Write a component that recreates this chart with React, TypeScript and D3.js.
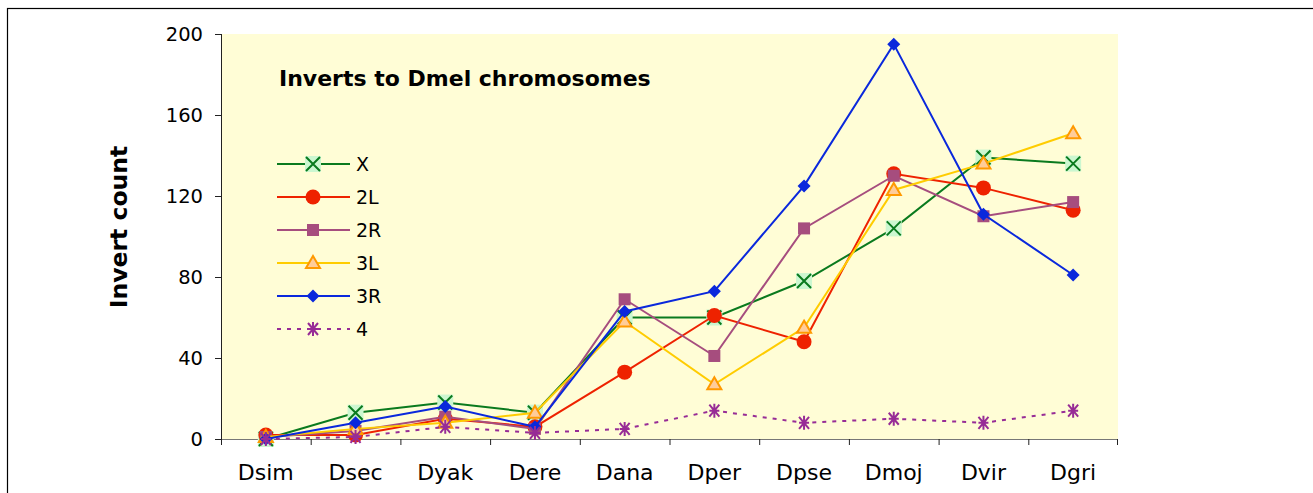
import React from "react";
import * as d3 from "d3";

const categories = ["Dsim", "Dsec", "Dyak", "Dere", "Dana", "Dper", "Dpse", "Dmoj", "Dvir", "Dgri"];
const seriesX = [0, 13, 18, 13, 60, 60, 78, 104, 139, 136];
const series2L = [2, 2, 10, 6, 33, 61, 48, 131, 124, 113];
const series2R = [1, 4, 11, 5, 69, 41, 104, 130, 110, 117];
const series3L = [1, 5, 8, 13, 58, 27, 55, 123, 136, 151];
const series3R = [0, 8, 16, 6, 63, 73, 125, 195, 111, 81];
const series4 = [0, 1, 6, 3, 5, 14, 8, 10, 8, 14];
const yTicks = [0, 40, 80, 120, 160, 200];
const seriesNames = ["X", "2L", "2R", "3L", "3R", "4"];

type Style = { line: string; dash?: string; marker: string };
const styles: Style[] = [
  { line: "#0A7A1E", marker: "x" },
  { line: "#EE2200", marker: "circle" },
  { line: "#A64D7E", marker: "square" },
  { line: "#FFCC00", marker: "triangle" },
  { line: "#0A28DC", marker: "diamond" },
  { line: "#972C96", dash: "4,6", marker: "star" },
];
const allSeries = [seriesX, series2L, series2R, series3L, series3R, series4];

const FONT = "'DejaVu Sans', Verdana, sans-serif";

function Marker({ kind, x, y }: { kind: string; x: number; y: number }) {
  switch (kind) {
    case "x":
      return (
        <g>
          <rect x={x - 8} y={y - 8} width={16} height={16} fill="#CCF7D0" />
          <path d={`M${x - 7},${y - 7}L${x + 7},${y + 7}M${x - 7},${y + 7}L${x + 7},${y - 7}`} stroke="#0A7A1E" strokeWidth={2} />
        </g>
      );
    case "circle":
      return <circle cx={x} cy={y} r={7.5} fill="#EE2200" />;
    case "square":
      return <rect x={x - 6} y={y - 6} width={12} height={12} fill="#A64D7E" />;
    case "triangle":
      return (
        <path d={`M${x},${y - 7}L${x + 7},${y + 5}L${x - 7},${y + 5}Z`} fill="#FFCC99" stroke="#FF9900" strokeWidth={2} />
      );
    case "diamond":
      return <path d={`M${x},${y - 6.5}L${x + 6.5},${y}L${x},${y + 6.5}L${x - 6.5},${y}Z`} fill="#0A28DC" />;
    case "star":
      return (
        <path
          d={`M${x - 5},${y - 6}L${x + 5},${y + 6}M${x - 5},${y + 6}L${x + 5},${y - 6}M${x},${y - 7}L${x},${y + 7}M${x - 5},${y}L${x + 5},${y}`}
          stroke="#972C96"
          strokeWidth={2}
        />
      );
  }
  return null;
}

export default function App() {
  const W = 1313, H = 493;
  const left = 221, right = 1118, top = 34, bottom = 439;
  const x = d3.scaleBand<string>().domain(categories).range([left, right]);
  const y = d3.scaleLinear().domain([0, 200]).range([bottom, top]);
  const cx = (c: string) => (x(c) as number) + x.bandwidth() / 2;
  const line = d3
    .line<number>()
    .x((_, i) => cx(categories[i]))
    .y((d) => y(d));

  const legendY = d3.scalePoint<string>().domain(seriesNames).range([164, 329]);

  return (
    <svg
      width={W}
      height={H}
      style={{ position: "absolute", left: 0, top: 0 }}
      fontFamily={FONT}
    >
      <rect x={0} y={0} width={W} height={H} fill="#fff" />
      <rect x={7.5} y={8.5} width={W + 20} height={H + 20} fill="none" stroke="#000" strokeWidth={1.2} />
      <rect x={left} y={top} width={right - left} height={bottom - top} fill="#FFFDD6" />

      {/* y axis */}
      <line x1={left + 0.5} x2={left + 0.5} y1={top} y2={bottom} stroke="#222" />
      {yTicks.map((t) => (
        <g key={t}>
          <line x1={left - 6} x2={left} y1={y(t) + 0.5} y2={y(t) + 0.5} stroke="#222" />
          <text x={203} y={y(t)} dy="0.36em" textAnchor="end" fontSize={19.5} fill="#000">
            {t}
          </text>
        </g>
      ))}
      {/* x axis */}
      <line x1={left} x2={right} y1={bottom + 0.5} y2={bottom + 0.5} stroke="#777" strokeWidth={1.2} />
      {categories.map((c, i) => (
        <g key={c}>
          <line x1={(x(c) as number) + 0.5} x2={(x(c) as number) + 0.5} y1={bottom} y2={bottom + 6} stroke="#222" />
          {i === categories.length - 1 && (
            <line x1={right - 0.5} x2={right - 0.5} y1={bottom} y2={bottom + 6} stroke="#222" />
          )}
          <text x={cx(c)} y={480} textAnchor="middle" fontSize={22} fill="#000">
            {c}
          </text>
        </g>
      ))}

      <text
        transform={`translate(127,227) rotate(-90)`}
        textAnchor="middle"
        fontSize={23.5}
        fontWeight="bold"
        fill="#000"
      >
        Invert count
      </text>

      {allSeries.map((s, si) => (
        <g key={si}>
          <path
            d={line(s) as string}
            fill="none"
            stroke={styles[si].line}
            strokeWidth={2}
            strokeDasharray={styles[si].dash}
          />
          {s.map((v, i) => (
            <Marker key={i} kind={styles[si].marker} x={cx(categories[i])} y={y(v)} />
          ))}
        </g>
      ))}

      <text x={279} y={86} fontSize={22} fontWeight="bold" fill="#000">
        Inverts to Dmel chromosomes
      </text>

      {seriesNames.map((n, si) => {
        const ly = legendY(n) as number;
        return (
          <g key={n}>
            <line
              x1={277}
              x2={350}
              y1={ly}
              y2={ly}
              stroke={styles[si].line}
              strokeWidth={2}
              strokeDasharray={styles[si].dash}
            />
            <Marker kind={styles[si].marker} x={313} y={ly} />
            <text x={356} y={ly} dy="0.36em" fontSize={19} fill="#000">
              {n}
            </text>
          </g>
        );
      })}
    </svg>
  );
}
